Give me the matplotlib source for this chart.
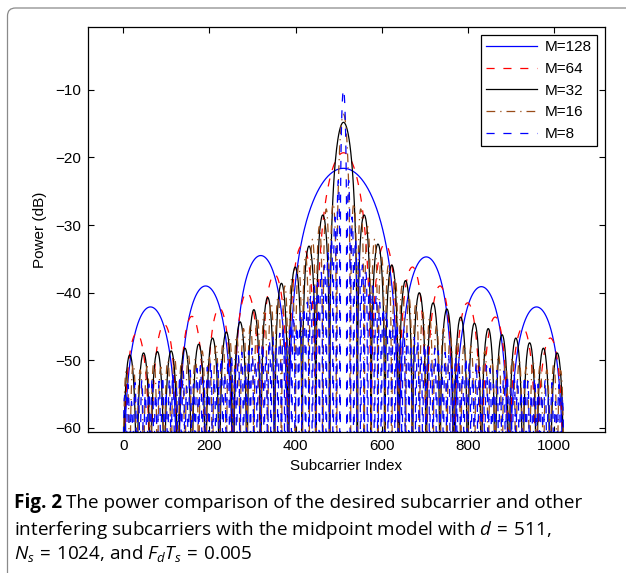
import numpy as np
import matplotlib
matplotlib.use('Agg')
import matplotlib.pyplot as plt
from matplotlib.patches import FancyBboxPatch

plt.rcParams['font.family'] = ['Liberation Sans', 'DejaVu Sans']
plt.rcParams['mathtext.fontset'] = 'custom'
plt.rcParams['mathtext.rm'] = 'Open Sans'
plt.rcParams['mathtext.it'] = 'Open Sans:italic'

#
# data
#
N_SUB = 1024
D_SUB = 511
block_sizes = [128, 64, 32, 16, 8]
labels = ['M=128', 'M=64', 'M=32', 'M=16', 'M=8']

# peak power of every lobe (dB), left to right
peaks_128 = [-42.1, -39.0, -34.5, -21.6, -34.7, -39.1, -42.1]
peaks_64 = [-46.0, -44.7, -43.5, -42.3, -40.0, -37.3, -33.0, -19.3,
            -32.8, -36.2, -39.0, -41.5, -43.6, -45.2, -46.7]
peaks_32 = [-49.2, -48.9, -48.7, -48.6, -48.2, -47.6, -46.7, -45.8,
            -44.3, -42.5, -40.7, -38.6, -36.2, -33.1, -28.5, -14.8,
            -28.5, -32.8, -35.9, -38.2, -40.0, -41.5, -42.4, -43.6,
            -44.5, -45.3, -46.2, -46.7, -47.4, -48.2, -48.9]
# side lobes of the two small blocks, outer -> inner (mirrored on the right)
side_16 = [-51.5, -50.6, -51.4, -50.9, -50.2, -51.0, -50.1, -49.6,
           -50.3, -49.2, -49.8, -48.6, -49.3, -47.9, -47.6, -46.8,
           -46.4, -45.3, -44.8, -43.6, -42.9, -41.5, -40.6, -39.0,
           -37.9, -36.0, -34.5, -32.1, -30.2, -27.6, -26.8]
main_16 = -13.6
side_8 = [-55.2, -53.6, -56.1, -53.3, -55.4, -52.9, -55.0, -53.5,
          -52.6, -54.9, -53.1, -52.3, -54.6, -52.7, -51.9, -54.1,
          -52.2, -51.6, -53.9, -51.5, -53.5, -51.2, -50.8, -53.0,
          -51.0, -50.3, -52.6, -50.3, -49.6, -52.0, -50.0, -49.4,
          -51.3, -49.2, -48.8, -50.8, -48.6, -48.2, -50.2, -48.0,
          -47.5, -49.3, -47.0, -46.6, -48.2, -46.0, -45.5, -46.8,
          -44.6, -44.0, -44.9, -42.8, -42.2, -41.4, -40.3, -39.0,
          -38.5, -36.8, -35.9, -34.1, -32.0, -28.8, -23.4]
main_8 = -10.0

peaks_16 = side_16 + [main_16] + side_16[::-1]
peaks_8 = side_8 + [main_8] + side_8[::-1]
all_peaks = [peaks_128, peaks_64, peaks_32, peaks_16, peaks_8]

colors = ['#0000ff', '#ff0000', '#000000', '#994c19', '#0000ff']
dashes = [None, (6.5, 7), None, (7, 4, 1, 4), (6.5, 7)]


def lobe_curve(m, peaks):
    """power at each subcarrier: one lobe between consecutive nulls d + j*m"""
    k = np.arange(N_SUB)
    off = (k - D_SUB) / m
    j = np.floor(off).astype(int)
    n_left = (len(peaks) - 1) // 2
    idx = np.where(j <= -2, n_left + 1 + j, np.where(j >= 1, n_left + j, n_left))
    idx = np.clip(idx, 0, len(peaks) - 1)
    peak = np.array(peaks)[idx]
    main = (j == -1) | (j == 0)
    shape = np.where(main, np.abs(np.sinc(off)), np.abs(np.sin(np.pi * off)))
    shape = np.maximum(shape, 1e-6)
    return k, peak + 20 * np.log10(shape)


fig = plt.figure(figsize=(6.26, 5.73), dpi=100)

# rounded frame of the figure panel
frame = FancyBboxPatch((0.075, -0.6), 7.0, 6.25,
                       boxstyle='round,pad=0,rounding_size=0.08',
                       transform=fig.dpi_scale_trans, fill=False,
                       edgecolor='#8a8a8a', linewidth=0.9)
fig.patches.append(frame)

ax = fig.add_axes([88 / 626, 1 - 432 / 573, (605 - 88) / 626, (432 - 27) / 573])

for m, peaks, col, dsh, lab in zip(block_sizes, all_peaks, colors, dashes, labels):
    x, y = lobe_curve(m, peaks)
    line, = ax.plot(x, y, color=col, linewidth=0.9, label=lab)
    if dsh is not None:
        line.set_dashes(dsh)

ax.set_xlim(-82, 1118)
ax.set_ylim(-60.6, -0.7)
ax.set_xticks(np.arange(0, 1001, 200))
ax.set_yticks(np.arange(-60, -9, 10))
ax.tick_params(direction='in', top=True, right=True, length=4, width=0.8,
               labelsize=11, pad=5)
for sp in ax.spines.values():
    sp.set_linewidth(0.9)
ax.set_xlabel('Subcarrier Index', fontsize=11, labelpad=4)
ax.set_ylabel('Power (dB)', fontsize=11, labelpad=6)

leg = ax.legend(loc='upper right', bbox_to_anchor=(597 / 626, 1 - 35 / 573),
                bbox_transform=fig.transFigure, borderaxespad=0,
                fancybox=False, edgecolor='k', framealpha=1, fontsize=11,
                handlelength=3.3, handletextpad=0.5, labelspacing=0.5,
                borderpad=0.35)
leg.get_frame().set_linewidth(0.9)

# caption
cap_size = 13.6
r = fig.canvas.get_renderer()
t0 = fig.text(14 / 626, 1 - 503 / 573, 'Fig. 2', fontsize=cap_size, fontweight='bold',
              family='Open Sans', va='center', ha='left')
w0 = t0.get_window_extent(renderer=r).width
fig.text((14 + w0 + 4) / 626, 1 - 503 / 573,
         'The power comparison of the desired subcarrier and other',
         fontsize=cap_size, family='Open Sans', va='center', ha='left')
fig.text(14 / 626, 1 - 530 / 573,
         r'interfering subcarriers with the midpoint model with $d\,=\,511$,',
         fontsize=cap_size, family='Open Sans', va='center', ha='left')
fig.text(14 / 626, 1 - 554 / 573,
         r'$N_s\,=\,1024$, and $F_dT_s\,=\,0.005$',
         fontsize=cap_size, family='Open Sans', va='center', ha='left')

fig.savefig('out.png', dpi=100)
